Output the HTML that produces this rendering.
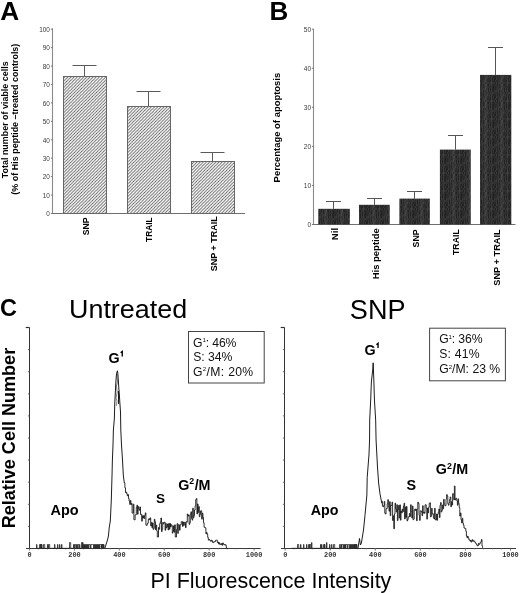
<!DOCTYPE html>
<html><head><meta charset="utf-8"><style>
html,body{margin:0;padding:0;background:#fff;}
svg{display:block;will-change:transform;}
</style></head><body>
<svg width="520" height="593" viewBox="0 0 520 593">
<defs>
<pattern id="hatch" patternUnits="userSpaceOnUse" width="3.15" height="3.15">
<rect width="3.15" height="3.15" fill="#fff"/>
<path d="M-0.8,0.8 L0.8,-0.8 M0,3.15 L3.15,0 M2.35,3.95 L3.95,2.35" stroke="#555" stroke-width="0.8"/>
</pattern>
<pattern id="dark" patternUnits="userSpaceOnUse" width="16" height="18"><rect x="0" y="0" width="1" height="2" fill="#393939"/><rect x="0" y="2" width="1" height="2" fill="#313131"/><rect x="0" y="4" width="1" height="2" fill="#363636"/><rect x="0" y="6" width="1" height="2" fill="#3b3b3b"/><rect x="0" y="8" width="1" height="2" fill="#2d2d2d"/><rect x="0" y="10" width="1" height="2" fill="#3c3c3c"/><rect x="0" y="12" width="1" height="2" fill="#313131"/><rect x="0" y="14" width="1" height="2" fill="#2a2a2a"/><rect x="0" y="16" width="1" height="2" fill="#303030"/><rect x="1" y="0" width="1" height="2" fill="#2d2d2d"/><rect x="1" y="2" width="1" height="2" fill="#282828"/><rect x="1" y="4" width="1" height="2" fill="#252525"/><rect x="1" y="6" width="1" height="2" fill="#2c2c2c"/><rect x="1" y="8" width="1" height="2" fill="#252525"/><rect x="1" y="10" width="1" height="2" fill="#222222"/><rect x="1" y="12" width="1" height="2" fill="#242424"/><rect x="1" y="14" width="1" height="2" fill="#333333"/><rect x="1" y="16" width="1" height="2" fill="#333333"/><rect x="2" y="0" width="1" height="2" fill="#3e3e3e"/><rect x="2" y="2" width="1" height="2" fill="#343434"/><rect x="2" y="4" width="1" height="2" fill="#343434"/><rect x="2" y="6" width="1" height="2" fill="#303030"/><rect x="2" y="8" width="1" height="2" fill="#303030"/><rect x="2" y="10" width="1" height="2" fill="#363636"/><rect x="2" y="12" width="1" height="2" fill="#363636"/><rect x="2" y="14" width="1" height="2" fill="#353535"/><rect x="2" y="16" width="1" height="2" fill="#353535"/><rect x="3" y="0" width="1" height="2" fill="#292929"/><rect x="3" y="2" width="1" height="2" fill="#2a2a2a"/><rect x="3" y="4" width="1" height="2" fill="#262626"/><rect x="3" y="6" width="1" height="2" fill="#313131"/><rect x="3" y="8" width="1" height="2" fill="#353535"/><rect x="3" y="10" width="1" height="2" fill="#343434"/><rect x="3" y="12" width="1" height="2" fill="#262626"/><rect x="3" y="14" width="1" height="2" fill="#252525"/><rect x="3" y="16" width="1" height="2" fill="#363636"/><rect x="4" y="0" width="1" height="2" fill="#363636"/><rect x="4" y="2" width="1" height="2" fill="#3c3c3c"/><rect x="4" y="4" width="1" height="2" fill="#393939"/><rect x="4" y="6" width="1" height="2" fill="#303030"/><rect x="4" y="8" width="1" height="2" fill="#3b3b3b"/><rect x="4" y="10" width="1" height="2" fill="#3d3d3d"/><rect x="4" y="12" width="1" height="2" fill="#353535"/><rect x="4" y="14" width="1" height="2" fill="#343434"/><rect x="4" y="16" width="1" height="2" fill="#383838"/><rect x="5" y="0" width="1" height="2" fill="#323232"/><rect x="5" y="2" width="1" height="2" fill="#3a3a3a"/><rect x="5" y="4" width="1" height="2" fill="#393939"/><rect x="5" y="6" width="1" height="2" fill="#434343"/><rect x="5" y="8" width="1" height="2" fill="#424242"/><rect x="5" y="10" width="1" height="2" fill="#303030"/><rect x="5" y="12" width="1" height="2" fill="#434343"/><rect x="5" y="14" width="1" height="2" fill="#454545"/><rect x="5" y="16" width="1" height="2" fill="#464646"/><rect x="6" y="0" width="1" height="2" fill="#3a3a3a"/><rect x="6" y="2" width="1" height="2" fill="#323232"/><rect x="6" y="4" width="1" height="2" fill="#393939"/><rect x="6" y="6" width="1" height="2" fill="#3b3b3b"/><rect x="6" y="8" width="1" height="2" fill="#393939"/><rect x="6" y="10" width="1" height="2" fill="#3f3f3f"/><rect x="6" y="12" width="1" height="2" fill="#464646"/><rect x="6" y="14" width="1" height="2" fill="#3a3a3a"/><rect x="6" y="16" width="1" height="2" fill="#353535"/><rect x="7" y="0" width="1" height="2" fill="#393939"/><rect x="7" y="2" width="1" height="2" fill="#393939"/><rect x="7" y="4" width="1" height="2" fill="#404040"/><rect x="7" y="6" width="1" height="2" fill="#2f2f2f"/><rect x="7" y="8" width="1" height="2" fill="#2b2b2b"/><rect x="7" y="10" width="1" height="2" fill="#323232"/><rect x="7" y="12" width="1" height="2" fill="#2a2a2a"/><rect x="7" y="14" width="1" height="2" fill="#353535"/><rect x="7" y="16" width="1" height="2" fill="#363636"/><rect x="8" y="0" width="1" height="2" fill="#202020"/><rect x="8" y="2" width="1" height="2" fill="#313131"/><rect x="8" y="4" width="1" height="2" fill="#2d2d2d"/><rect x="8" y="6" width="1" height="2" fill="#2b2b2b"/><rect x="8" y="8" width="1" height="2" fill="#2c2c2c"/><rect x="8" y="10" width="1" height="2" fill="#323232"/><rect x="8" y="12" width="1" height="2" fill="#202020"/><rect x="8" y="14" width="1" height="2" fill="#2e2e2e"/><rect x="8" y="16" width="1" height="2" fill="#212121"/><rect x="9" y="0" width="1" height="2" fill="#3c3c3c"/><rect x="9" y="2" width="1" height="2" fill="#2b2b2b"/><rect x="9" y="4" width="1" height="2" fill="#393939"/><rect x="9" y="6" width="1" height="2" fill="#2c2c2c"/><rect x="9" y="8" width="1" height="2" fill="#292929"/><rect x="9" y="10" width="1" height="2" fill="#2d2d2d"/><rect x="9" y="12" width="1" height="2" fill="#343434"/><rect x="9" y="14" width="1" height="2" fill="#313131"/><rect x="9" y="16" width="1" height="2" fill="#363636"/><rect x="10" y="0" width="1" height="2" fill="#2b2b2b"/><rect x="10" y="2" width="1" height="2" fill="#303030"/><rect x="10" y="4" width="1" height="2" fill="#282828"/><rect x="10" y="6" width="1" height="2" fill="#2e2e2e"/><rect x="10" y="8" width="1" height="2" fill="#232323"/><rect x="10" y="10" width="1" height="2" fill="#323232"/><rect x="10" y="12" width="1" height="2" fill="#2b2b2b"/><rect x="10" y="14" width="1" height="2" fill="#292929"/><rect x="10" y="16" width="1" height="2" fill="#212121"/><rect x="11" y="0" width="1" height="2" fill="#3d3d3d"/><rect x="11" y="2" width="1" height="2" fill="#323232"/><rect x="11" y="4" width="1" height="2" fill="#363636"/><rect x="11" y="6" width="1" height="2" fill="#3a3a3a"/><rect x="11" y="8" width="1" height="2" fill="#404040"/><rect x="11" y="10" width="1" height="2" fill="#434343"/><rect x="11" y="12" width="1" height="2" fill="#3b3b3b"/><rect x="11" y="14" width="1" height="2" fill="#343434"/><rect x="11" y="16" width="1" height="2" fill="#3a3a3a"/><rect x="12" y="0" width="1" height="2" fill="#282828"/><rect x="12" y="2" width="1" height="2" fill="#363636"/><rect x="12" y="4" width="1" height="2" fill="#313131"/><rect x="12" y="6" width="1" height="2" fill="#222222"/><rect x="12" y="8" width="1" height="2" fill="#292929"/><rect x="12" y="10" width="1" height="2" fill="#353535"/><rect x="12" y="12" width="1" height="2" fill="#2a2a2a"/><rect x="12" y="14" width="1" height="2" fill="#292929"/><rect x="12" y="16" width="1" height="2" fill="#252525"/><rect x="13" y="0" width="1" height="2" fill="#222222"/><rect x="13" y="2" width="1" height="2" fill="#343434"/><rect x="13" y="4" width="1" height="2" fill="#242424"/><rect x="13" y="6" width="1" height="2" fill="#363636"/><rect x="13" y="8" width="1" height="2" fill="#292929"/><rect x="13" y="10" width="1" height="2" fill="#2f2f2f"/><rect x="13" y="12" width="1" height="2" fill="#252525"/><rect x="13" y="14" width="1" height="2" fill="#212121"/><rect x="13" y="16" width="1" height="2" fill="#222222"/><rect x="14" y="0" width="1" height="2" fill="#333333"/><rect x="14" y="2" width="1" height="2" fill="#313131"/><rect x="14" y="4" width="1" height="2" fill="#2c2c2c"/><rect x="14" y="6" width="1" height="2" fill="#212121"/><rect x="14" y="8" width="1" height="2" fill="#272727"/><rect x="14" y="10" width="1" height="2" fill="#333333"/><rect x="14" y="12" width="1" height="2" fill="#2b2b2b"/><rect x="14" y="14" width="1" height="2" fill="#282828"/><rect x="14" y="16" width="1" height="2" fill="#2e2e2e"/><rect x="15" y="0" width="1" height="2" fill="#343434"/><rect x="15" y="2" width="1" height="2" fill="#2d2d2d"/><rect x="15" y="4" width="1" height="2" fill="#242424"/><rect x="15" y="6" width="1" height="2" fill="#212121"/><rect x="15" y="8" width="1" height="2" fill="#343434"/><rect x="15" y="10" width="1" height="2" fill="#212121"/><rect x="15" y="12" width="1" height="2" fill="#2f2f2f"/><rect x="15" y="14" width="1" height="2" fill="#2a2a2a"/><rect x="15" y="16" width="1" height="2" fill="#262626"/></pattern>
</defs>
<rect width="520" height="593" fill="#fff"/>
<line x1="52.5" y1="28.2" x2="52.5" y2="214.0" stroke="#8a8a8a" stroke-width="1.1"/>
<line x1="52.0" y1="213.5" x2="245" y2="213.5" stroke="#707070" stroke-width="1.1"/>
<line x1="50.9" y1="213.5" x2="52.5" y2="213.5" stroke="#777" stroke-width="1"/>
<text x="49.9" y="216.3" font-size="6.4" font-family='"Liberation Sans", sans-serif' text-anchor="end" fill="#3a3a3a">0</text>
<line x1="50.9" y1="195.07" x2="52.5" y2="195.07" stroke="#777" stroke-width="1"/>
<text x="49.9" y="197.87" font-size="6.4" font-family='"Liberation Sans", sans-serif' text-anchor="end" fill="#3a3a3a">10</text>
<line x1="50.9" y1="176.64" x2="52.5" y2="176.64" stroke="#777" stroke-width="1"/>
<text x="49.9" y="179.44" font-size="6.4" font-family='"Liberation Sans", sans-serif' text-anchor="end" fill="#3a3a3a">20</text>
<line x1="50.9" y1="158.21" x2="52.5" y2="158.21" stroke="#777" stroke-width="1"/>
<text x="49.9" y="161.01" font-size="6.4" font-family='"Liberation Sans", sans-serif' text-anchor="end" fill="#3a3a3a">30</text>
<line x1="50.9" y1="139.78" x2="52.5" y2="139.78" stroke="#777" stroke-width="1"/>
<text x="49.9" y="142.58" font-size="6.4" font-family='"Liberation Sans", sans-serif' text-anchor="end" fill="#3a3a3a">40</text>
<line x1="50.9" y1="121.35" x2="52.5" y2="121.35" stroke="#777" stroke-width="1"/>
<text x="49.9" y="124.15" font-size="6.4" font-family='"Liberation Sans", sans-serif' text-anchor="end" fill="#3a3a3a">50</text>
<line x1="50.9" y1="102.92" x2="52.5" y2="102.92" stroke="#777" stroke-width="1"/>
<text x="49.9" y="105.72" font-size="6.4" font-family='"Liberation Sans", sans-serif' text-anchor="end" fill="#3a3a3a">60</text>
<line x1="50.9" y1="84.49000000000001" x2="52.5" y2="84.49000000000001" stroke="#777" stroke-width="1"/>
<text x="49.9" y="87.29" font-size="6.4" font-family='"Liberation Sans", sans-serif' text-anchor="end" fill="#3a3a3a">70</text>
<line x1="50.9" y1="66.06" x2="52.5" y2="66.06" stroke="#777" stroke-width="1"/>
<text x="49.9" y="68.86" font-size="6.4" font-family='"Liberation Sans", sans-serif' text-anchor="end" fill="#3a3a3a">80</text>
<line x1="50.9" y1="47.629999999999995" x2="52.5" y2="47.629999999999995" stroke="#777" stroke-width="1"/>
<text x="49.9" y="50.43" font-size="6.4" font-family='"Liberation Sans", sans-serif' text-anchor="end" fill="#3a3a3a">90</text>
<line x1="50.9" y1="29.19999999999999" x2="52.5" y2="29.19999999999999" stroke="#777" stroke-width="1"/>
<text x="49.9" y="32.0" font-size="6.4" font-family='"Liberation Sans", sans-serif' text-anchor="end" fill="#3a3a3a">100</text>
<line x1="84.5" y1="65.5" x2="84.5" y2="76" stroke="#5a5a5a" stroke-width="1"/>
<line x1="72.5" y1="65.5" x2="96.5" y2="65.5" stroke="#5a5a5a" stroke-width="1"/>
<rect x="63.5" y="76.5" width="43" height="137.0" fill="url(#hatch)" stroke="#666" stroke-width="1"/>
<line x1="148.5" y1="91.5" x2="148.5" y2="106" stroke="#5a5a5a" stroke-width="1"/>
<line x1="136.5" y1="91.5" x2="160.5" y2="91.5" stroke="#5a5a5a" stroke-width="1"/>
<rect x="127.5" y="106.5" width="43" height="107.0" fill="url(#hatch)" stroke="#666" stroke-width="1"/>
<line x1="212.5" y1="152.5" x2="212.5" y2="161" stroke="#5a5a5a" stroke-width="1"/>
<line x1="200.5" y1="152.5" x2="224.5" y2="152.5" stroke="#5a5a5a" stroke-width="1"/>
<rect x="191.5" y="161.5" width="43" height="52.0" fill="url(#hatch)" stroke="#666" stroke-width="1"/>
<line x1="313.5" y1="28.8" x2="313.5" y2="225.0" stroke="#8a8a8a" stroke-width="1.1"/>
<line x1="313.0" y1="224.5" x2="515.5" y2="224.5" stroke="#707070" stroke-width="1.1"/>
<line x1="311.9" y1="224.5" x2="313.5" y2="224.5" stroke="#777" stroke-width="1"/>
<text x="311.1" y="227.1" font-size="6.5" font-family='"Liberation Sans", sans-serif' text-anchor="end" fill="#3a3a3a">0</text>
<line x1="311.9" y1="185.44" x2="313.5" y2="185.44" stroke="#777" stroke-width="1"/>
<text x="311.1" y="188.04" font-size="6.5" font-family='"Liberation Sans", sans-serif' text-anchor="end" fill="#3a3a3a">10</text>
<line x1="311.9" y1="146.38" x2="313.5" y2="146.38" stroke="#777" stroke-width="1"/>
<text x="311.1" y="148.98" font-size="6.5" font-family='"Liberation Sans", sans-serif' text-anchor="end" fill="#3a3a3a">20</text>
<line x1="311.9" y1="107.32" x2="313.5" y2="107.32" stroke="#777" stroke-width="1"/>
<text x="311.1" y="109.92" font-size="6.5" font-family='"Liberation Sans", sans-serif' text-anchor="end" fill="#3a3a3a">30</text>
<line x1="311.9" y1="68.25999999999999" x2="313.5" y2="68.25999999999999" stroke="#777" stroke-width="1"/>
<text x="311.1" y="70.86" font-size="6.5" font-family='"Liberation Sans", sans-serif' text-anchor="end" fill="#3a3a3a">40</text>
<line x1="311.9" y1="29.19999999999999" x2="313.5" y2="29.19999999999999" stroke="#777" stroke-width="1"/>
<text x="311.1" y="31.8" font-size="6.5" font-family='"Liberation Sans", sans-serif' text-anchor="end" fill="#3a3a3a">50</text>
<line x1="333.5" y1="201.5" x2="333.5" y2="208.8" stroke="#555" stroke-width="1"/>
<line x1="326.0" y1="201.5" x2="341.0" y2="201.5" stroke="#555" stroke-width="1"/>
<rect x="318.3" y="208.8" width="31.5" height="15.7" fill="url(#dark)"/>
<line x1="374.5" y1="198.5" x2="374.5" y2="204.8" stroke="#555" stroke-width="1"/>
<line x1="367.0" y1="198.5" x2="382.0" y2="198.5" stroke="#555" stroke-width="1"/>
<rect x="359.0" y="204.8" width="30.8" height="19.7" fill="url(#dark)"/>
<line x1="414.5" y1="191.5" x2="414.5" y2="198.6" stroke="#555" stroke-width="1"/>
<line x1="407.0" y1="191.5" x2="422.0" y2="191.5" stroke="#555" stroke-width="1"/>
<rect x="399.4" y="198.6" width="30.4" height="25.9" fill="url(#dark)"/>
<line x1="455.5" y1="135.5" x2="455.5" y2="149.6" stroke="#555" stroke-width="1"/>
<line x1="448.0" y1="135.5" x2="463.0" y2="135.5" stroke="#555" stroke-width="1"/>
<rect x="439.9" y="149.6" width="30.9" height="74.9" fill="url(#dark)"/>
<line x1="495.5" y1="47.5" x2="495.5" y2="74.9" stroke="#555" stroke-width="1"/>
<line x1="488.0" y1="47.5" x2="503.0" y2="47.5" stroke="#555" stroke-width="1"/>
<rect x="480.0" y="74.9" width="31.3" height="149.6" fill="url(#dark)"/>
<line x1="29.5" y1="327.4" x2="29.5" y2="548.5" stroke="#333" stroke-width="1.0"/>
<line x1="25.7" y1="327.5" x2="29.5" y2="327.5" stroke="#333" stroke-width="1.2"/>
<line x1="27.9" y1="526.4" x2="29.5" y2="526.4" stroke="#666" stroke-width="1"/>
<line x1="27.9" y1="504.3" x2="29.5" y2="504.3" stroke="#666" stroke-width="1"/>
<line x1="27.9" y1="482.2" x2="29.5" y2="482.2" stroke="#666" stroke-width="1"/>
<line x1="27.9" y1="460.1" x2="29.5" y2="460.1" stroke="#666" stroke-width="1"/>
<line x1="27.9" y1="438.0" x2="29.5" y2="438.0" stroke="#666" stroke-width="1"/>
<line x1="27.9" y1="415.9" x2="29.5" y2="415.9" stroke="#666" stroke-width="1"/>
<line x1="27.9" y1="393.79999999999995" x2="29.5" y2="393.79999999999995" stroke="#666" stroke-width="1"/>
<line x1="27.9" y1="371.7" x2="29.5" y2="371.7" stroke="#666" stroke-width="1"/>
<line x1="27.9" y1="349.6" x2="29.5" y2="349.6" stroke="#666" stroke-width="1"/>
<line x1="26.0" y1="548.5" x2="260.6" y2="548.5" stroke="#3a3a3a" stroke-width="1.1"/>
<text x="29.6" y="557.4" font-size="6.9" font-family='"Liberation Mono", monospace' font-weight="bold" text-anchor="middle" fill="#333">0</text>
<line x1="29.6" y1="548.5" x2="29.6" y2="550.6" stroke="#666" stroke-width="0.9"/>
<text x="74.5" y="557.4" font-size="6.9" font-family='"Liberation Mono", monospace' font-weight="bold" text-anchor="middle" fill="#333">200</text>
<line x1="74.5" y1="548.5" x2="74.5" y2="550.6" stroke="#666" stroke-width="0.9"/>
<text x="119.4" y="557.4" font-size="6.9" font-family='"Liberation Mono", monospace' font-weight="bold" text-anchor="middle" fill="#333">400</text>
<line x1="119.4" y1="548.5" x2="119.4" y2="550.6" stroke="#666" stroke-width="0.9"/>
<text x="164.3" y="557.4" font-size="6.9" font-family='"Liberation Mono", monospace' font-weight="bold" text-anchor="middle" fill="#333">600</text>
<line x1="164.29999999999998" y1="548.5" x2="164.29999999999998" y2="550.6" stroke="#666" stroke-width="0.9"/>
<text x="209.2" y="557.4" font-size="6.9" font-family='"Liberation Mono", monospace' font-weight="bold" text-anchor="middle" fill="#333">800</text>
<line x1="209.2" y1="548.5" x2="209.2" y2="550.6" stroke="#666" stroke-width="0.9"/>
<text x="254.1" y="557.4" font-size="6.9" font-family='"Liberation Mono", monospace' font-weight="bold" text-anchor="middle" fill="#333">1000</text>
<line x1="254.1" y1="548.5" x2="254.1" y2="550.6" stroke="#666" stroke-width="0.9"/>
<line x1="38.58" y1="548.5" x2="38.58" y2="549.8" stroke="#999" stroke-width="0.6"/>
<line x1="47.56" y1="548.5" x2="47.56" y2="549.8" stroke="#999" stroke-width="0.6"/>
<line x1="56.54" y1="548.5" x2="56.54" y2="549.8" stroke="#999" stroke-width="0.6"/>
<line x1="65.52000000000001" y1="548.5" x2="65.52000000000001" y2="549.8" stroke="#999" stroke-width="0.6"/>
<line x1="74.5" y1="548.5" x2="74.5" y2="549.8" stroke="#999" stroke-width="0.6"/>
<line x1="83.47999999999999" y1="548.5" x2="83.47999999999999" y2="549.8" stroke="#999" stroke-width="0.6"/>
<line x1="92.46000000000001" y1="548.5" x2="92.46000000000001" y2="549.8" stroke="#999" stroke-width="0.6"/>
<line x1="101.44" y1="548.5" x2="101.44" y2="549.8" stroke="#999" stroke-width="0.6"/>
<line x1="110.41999999999999" y1="548.5" x2="110.41999999999999" y2="549.8" stroke="#999" stroke-width="0.6"/>
<line x1="119.4" y1="548.5" x2="119.4" y2="549.8" stroke="#999" stroke-width="0.6"/>
<line x1="128.38" y1="548.5" x2="128.38" y2="549.8" stroke="#999" stroke-width="0.6"/>
<line x1="137.35999999999999" y1="548.5" x2="137.35999999999999" y2="549.8" stroke="#999" stroke-width="0.6"/>
<line x1="146.33999999999997" y1="548.5" x2="146.33999999999997" y2="549.8" stroke="#999" stroke-width="0.6"/>
<line x1="155.32" y1="548.5" x2="155.32" y2="549.8" stroke="#999" stroke-width="0.6"/>
<line x1="164.29999999999998" y1="548.5" x2="164.29999999999998" y2="549.8" stroke="#999" stroke-width="0.6"/>
<line x1="173.28" y1="548.5" x2="173.28" y2="549.8" stroke="#999" stroke-width="0.6"/>
<line x1="182.26" y1="548.5" x2="182.26" y2="549.8" stroke="#999" stroke-width="0.6"/>
<line x1="191.23999999999998" y1="548.5" x2="191.23999999999998" y2="549.8" stroke="#999" stroke-width="0.6"/>
<line x1="200.22" y1="548.5" x2="200.22" y2="549.8" stroke="#999" stroke-width="0.6"/>
<line x1="209.2" y1="548.5" x2="209.2" y2="549.8" stroke="#999" stroke-width="0.6"/>
<line x1="218.17999999999998" y1="548.5" x2="218.17999999999998" y2="549.8" stroke="#999" stroke-width="0.6"/>
<line x1="227.16" y1="548.5" x2="227.16" y2="549.8" stroke="#999" stroke-width="0.6"/>
<line x1="236.14000000000001" y1="548.5" x2="236.14000000000001" y2="549.8" stroke="#999" stroke-width="0.6"/>
<line x1="245.11999999999998" y1="548.5" x2="245.11999999999998" y2="549.8" stroke="#999" stroke-width="0.6"/>
<line x1="284.5" y1="327.4" x2="284.5" y2="548.5" stroke="#333" stroke-width="1.0"/>
<line x1="280.7" y1="327.5" x2="284.5" y2="327.5" stroke="#333" stroke-width="1.2"/>
<line x1="282.9" y1="526.4" x2="284.5" y2="526.4" stroke="#666" stroke-width="1"/>
<line x1="282.9" y1="504.3" x2="284.5" y2="504.3" stroke="#666" stroke-width="1"/>
<line x1="282.9" y1="482.2" x2="284.5" y2="482.2" stroke="#666" stroke-width="1"/>
<line x1="282.9" y1="460.1" x2="284.5" y2="460.1" stroke="#666" stroke-width="1"/>
<line x1="282.9" y1="438.0" x2="284.5" y2="438.0" stroke="#666" stroke-width="1"/>
<line x1="282.9" y1="415.9" x2="284.5" y2="415.9" stroke="#666" stroke-width="1"/>
<line x1="282.9" y1="393.79999999999995" x2="284.5" y2="393.79999999999995" stroke="#666" stroke-width="1"/>
<line x1="282.9" y1="371.7" x2="284.5" y2="371.7" stroke="#666" stroke-width="1"/>
<line x1="282.9" y1="349.6" x2="284.5" y2="349.6" stroke="#666" stroke-width="1"/>
<line x1="281.0" y1="548.5" x2="516" y2="548.5" stroke="#3a3a3a" stroke-width="1.1"/>
<text x="285.2" y="557.4" font-size="6.9" font-family='"Liberation Mono", monospace' font-weight="bold" text-anchor="middle" fill="#333">0</text>
<line x1="285.2" y1="548.5" x2="285.2" y2="550.6" stroke="#666" stroke-width="0.9"/>
<text x="330.26" y="557.4" font-size="6.9" font-family='"Liberation Mono", monospace' font-weight="bold" text-anchor="middle" fill="#333">200</text>
<line x1="330.26" y1="548.5" x2="330.26" y2="550.6" stroke="#666" stroke-width="0.9"/>
<text x="375.32" y="557.4" font-size="6.9" font-family='"Liberation Mono", monospace' font-weight="bold" text-anchor="middle" fill="#333">400</text>
<line x1="375.32" y1="548.5" x2="375.32" y2="550.6" stroke="#666" stroke-width="0.9"/>
<text x="420.38" y="557.4" font-size="6.9" font-family='"Liberation Mono", monospace' font-weight="bold" text-anchor="middle" fill="#333">600</text>
<line x1="420.38" y1="548.5" x2="420.38" y2="550.6" stroke="#666" stroke-width="0.9"/>
<text x="465.44" y="557.4" font-size="6.9" font-family='"Liberation Mono", monospace' font-weight="bold" text-anchor="middle" fill="#333">800</text>
<line x1="465.44" y1="548.5" x2="465.44" y2="550.6" stroke="#666" stroke-width="0.9"/>
<text x="510.5" y="557.4" font-size="6.9" font-family='"Liberation Mono", monospace' font-weight="bold" text-anchor="middle" fill="#333">1000</text>
<line x1="510.5" y1="548.5" x2="510.5" y2="550.6" stroke="#666" stroke-width="0.9"/>
<line x1="294.212" y1="548.5" x2="294.212" y2="549.8" stroke="#999" stroke-width="0.6"/>
<line x1="303.224" y1="548.5" x2="303.224" y2="549.8" stroke="#999" stroke-width="0.6"/>
<line x1="312.236" y1="548.5" x2="312.236" y2="549.8" stroke="#999" stroke-width="0.6"/>
<line x1="321.248" y1="548.5" x2="321.248" y2="549.8" stroke="#999" stroke-width="0.6"/>
<line x1="330.26" y1="548.5" x2="330.26" y2="549.8" stroke="#999" stroke-width="0.6"/>
<line x1="339.272" y1="548.5" x2="339.272" y2="549.8" stroke="#999" stroke-width="0.6"/>
<line x1="348.284" y1="548.5" x2="348.284" y2="549.8" stroke="#999" stroke-width="0.6"/>
<line x1="357.296" y1="548.5" x2="357.296" y2="549.8" stroke="#999" stroke-width="0.6"/>
<line x1="366.308" y1="548.5" x2="366.308" y2="549.8" stroke="#999" stroke-width="0.6"/>
<line x1="375.32" y1="548.5" x2="375.32" y2="549.8" stroke="#999" stroke-width="0.6"/>
<line x1="384.332" y1="548.5" x2="384.332" y2="549.8" stroke="#999" stroke-width="0.6"/>
<line x1="393.344" y1="548.5" x2="393.344" y2="549.8" stroke="#999" stroke-width="0.6"/>
<line x1="402.356" y1="548.5" x2="402.356" y2="549.8" stroke="#999" stroke-width="0.6"/>
<line x1="411.368" y1="548.5" x2="411.368" y2="549.8" stroke="#999" stroke-width="0.6"/>
<line x1="420.38" y1="548.5" x2="420.38" y2="549.8" stroke="#999" stroke-width="0.6"/>
<line x1="429.392" y1="548.5" x2="429.392" y2="549.8" stroke="#999" stroke-width="0.6"/>
<line x1="438.404" y1="548.5" x2="438.404" y2="549.8" stroke="#999" stroke-width="0.6"/>
<line x1="447.416" y1="548.5" x2="447.416" y2="549.8" stroke="#999" stroke-width="0.6"/>
<line x1="456.428" y1="548.5" x2="456.428" y2="549.8" stroke="#999" stroke-width="0.6"/>
<line x1="465.44" y1="548.5" x2="465.44" y2="549.8" stroke="#999" stroke-width="0.6"/>
<line x1="474.452" y1="548.5" x2="474.452" y2="549.8" stroke="#999" stroke-width="0.6"/>
<line x1="483.464" y1="548.5" x2="483.464" y2="549.8" stroke="#999" stroke-width="0.6"/>
<line x1="492.476" y1="548.5" x2="492.476" y2="549.8" stroke="#999" stroke-width="0.6"/>
<line x1="501.488" y1="548.5" x2="501.488" y2="549.8" stroke="#999" stroke-width="0.6"/>
<rect x="188.5" y="331.5" width="75.7" height="51.5" fill="none" stroke="#444" stroke-width="1"/>
<rect x="429.6" y="328.2" width="75.8" height="52.6" fill="none" stroke="#444" stroke-width="1"/>
<text x="108.6" y="363.4" font-size="14.3" font-family='"Liberation Sans", sans-serif' font-weight="bold" text-anchor="start" fill="#000">G</text>
<text x="364.5" y="355.3" font-size="14.3" font-family='"Liberation Sans", sans-serif' font-weight="bold" text-anchor="start" fill="#000">G</text>
<path d="M122.25,356.50 L122.25,351.40 L120.65,352.80" fill="none" stroke="#000" stroke-width="1.35" stroke-linejoin="miter" stroke-miterlimit="8"/>
<path d="M378.05,348.10 L378.05,343.30 L376.45,344.70" fill="none" stroke="#000" stroke-width="1.35" stroke-linejoin="miter" stroke-miterlimit="8"/>
<text x="178.2" y="489.7" font-size="14.3" font-family='"Liberation Sans", sans-serif' font-weight="bold" text-anchor="start" fill="#000">G<tspan font-size="8.8" dy="-5.6">2</tspan><tspan dx="0.4" dy="5.6">/M</tspan></text>
<text x="435.8" y="474.2" font-size="14.3" font-family='"Liberation Sans", sans-serif' font-weight="bold" text-anchor="start" fill="#000">G<tspan font-size="8.8" dy="-5.6">2</tspan><tspan dx="0.4" dy="5.6">/M</tspan></text>
<polyline points="36.50,548.30 36.50,548.30 36.50,544.50 36.95,544.50 36.95,548.30 39.50,548.30 39.50,544.50 40.70,544.50 40.70,548.30 40.50,548.30 40.50,544.50 41.70,544.50 41.70,548.30 41.50,548.30 41.50,544.50 41.95,544.50 41.95,548.30 43.50,548.30 43.50,544.50 44.70,544.50 44.70,548.30 47.50,548.30 47.50,544.50 47.95,544.50 47.95,548.30 48.50,548.30 48.50,544.50 49.70,544.50 49.70,548.30 54.50,548.30 54.50,544.50 54.95,544.50 54.95,548.30 57.50,548.30 57.50,544.50 57.95,544.50 57.95,548.30 59.50,548.30 59.50,544.50 59.95,544.50 59.95,548.30 61.50,548.30 61.50,544.50 61.95,544.50 61.95,548.30 69.50,548.30 69.50,542.60 70.70,542.60 70.70,548.30 73.50,548.30 73.50,544.50 73.95,544.50 73.95,548.30 74.50,548.30 74.50,544.50 75.70,544.50 75.70,548.30 76.50,548.30 76.50,544.50 76.95,544.50 76.95,548.30 77.50,548.30 77.50,544.50 78.70,544.50 78.70,548.30 79.50,548.30 79.50,544.50 79.95,544.50 79.95,548.30 81.50,548.30 81.50,542.60 82.70,542.60 82.70,548.30 82.50,548.30 82.50,542.60 82.95,542.60 82.95,548.30 83.50,548.30 83.50,544.50 83.95,544.50 83.95,548.30 84.50,544.50 84.50,548.30 85.00,548.30 85.00,544.50 85.50,544.50 85.50,544.50 85.50,548.30 86.00,548.30 86.00,544.50 86.50,544.50 86.50,544.50 86.50,548.30 87.00,548.30 87.00,544.50 87.50,544.50 87.50,544.50 87.50,548.30 88.00,548.30 88.00,544.50 88.50,544.50 88.50,544.50 88.50,548.30 89.00,548.30 89.00,544.50 89.50,544.50 89.50,544.50 90.50,544.50 90.50,544.50 90.50,548.30 91.00,548.30 91.00,544.50 91.50,544.50 91.50,544.50 92.50,544.50 92.50,544.50 93.50,544.50 93.50,544.50 93.50,548.30 94.00,548.30 94.00,544.50 94.50,544.50 94.50,544.50 94.50,548.30 95.00,548.30 95.00,544.50 95.50,544.50 95.50,544.50 95.50,548.30 96.00,548.30 96.00,544.50 96.50,544.50 96.50,544.50 96.50,548.30 97.00,548.30 97.00,544.50 97.50,544.50 97.50,544.50 97.50,548.30 98.00,548.30 98.00,544.50 98.50,544.50 98.50,544.50 98.50,548.30 99.00,548.30 99.00,544.50 99.50,544.50 99.50,544.50 99.50,548.30 100.00,548.30 100.00,544.50 100.50,544.50 100.50,544.50 101.50,544.50 101.50,548.30 101.50,544.50 102.70,544.50 102.70,548.30 102.50,548.30 102.50,544.50 103.70,544.50 103.70,548.30 103.50,548.30 103.50,544.50 103.95,544.50 103.95,548.30 104.80,548.30" fill="none" stroke="#222" stroke-width="0.8" stroke-linejoin="bevel"/>
<polyline points="116.80,374.00 117.60,382.00 116.40,386.00 117.20,392.00 116.00,398.00 117.00,401.00 116.20,406.00" fill="none" stroke="#666" stroke-width="0.8" stroke-linejoin="bevel"/>
<line x1="118.4" y1="391" x2="118.6" y2="404" stroke="#111" stroke-width="1"/>
<polyline points="104.80,548.30 107.50,540.00 108.40,536.00 109.00,530.00 109.30,527.00 110.30,521.00 110.60,515.00 111.30,500.00 112.00,476.00 112.40,460.00 113.00,445.00 113.40,430.00 114.40,418.00 114.70,405.00 115.30,393.00 115.80,383.00 116.30,376.00 117.00,372.00 117.40,370.80 117.80,373.00 118.30,380.00 118.80,388.00 119.40,395.00 119.80,402.00 120.50,412.00 120.80,430.00 121.50,445.00 122.50,460.00 123.30,475.00 124.30,483.00" fill="none" stroke="#111" stroke-width="0.95" stroke-linejoin="bevel"/>
<polyline points="124.30,482.86 124.90,482.86 124.90,487.89 125.50,487.89 125.50,492.59 126.10,492.59 126.10,492.08 126.70,492.08 126.70,493.79 127.30,493.79 127.30,495.80 127.90,495.80 127.90,494.61 128.50,494.61 128.50,498.46 129.10,498.46 129.10,501.00 129.70,501.00 129.70,504.35 130.30,504.35 130.30,500.43 130.90,500.43 130.90,504.65 131.50,504.65 131.50,503.43 132.10,503.43 132.10,513.09 132.70,513.09 132.70,513.10 133.30,513.10 133.30,504.16 133.90,504.16 133.90,519.68 134.50,519.68 134.50,519.90 135.10,519.90 135.10,515.02 135.70,515.02 135.70,514.76 136.30,514.76 136.30,507.33 136.90,507.33 136.90,505.21 137.50,505.21 137.50,514.23 138.10,514.23 138.10,506.56 138.70,506.56 138.70,509.08 139.30,509.08 139.30,510.26 139.90,510.26 139.90,506.96 140.50,506.96 140.50,514.49 141.10,514.49 141.10,514.21 141.70,514.21 141.70,521.16 142.30,521.16 142.30,515.79 142.90,515.79 142.90,517.96 143.50,517.96 143.50,515.70 144.10,515.70 144.10,518.58 144.70,518.58 144.70,515.21 145.30,515.21 145.30,512.86 145.90,512.86 145.90,525.06 146.50,525.06 146.50,525.44 147.10,525.44 147.10,523.85 147.70,523.85 147.70,522.91 148.30,522.91 148.30,519.19 148.90,519.19 148.90,518.70 149.50,518.70 149.50,519.80 150.10,519.80 150.10,517.85 150.70,517.85 150.70,525.95 151.30,525.95 151.30,522.38 151.90,522.38 151.90,527.74 152.50,527.74 152.50,522.92 153.10,522.92 153.10,529.41 153.70,529.41 153.70,528.39 154.30,528.39 154.30,519.27 154.90,519.27 154.90,521.77 155.50,521.77 155.50,529.68 156.10,529.68 156.10,525.04 156.70,525.04 156.70,530.85 157.30,530.85 157.30,537.00 157.90,537.00 157.90,537.00 158.50,537.00 158.50,527.50 159.10,527.50 159.10,529.22 159.70,529.22 159.70,523.71 160.30,523.71 160.30,521.79 160.90,521.79 160.90,518.00 161.50,518.00 161.50,531.60 162.10,531.60 162.10,529.42 162.70,529.42 162.70,522.47 163.30,522.47 163.30,523.97 163.90,523.97 163.90,522.45 164.50,522.45 164.50,522.09 165.10,522.09 165.10,530.28 165.70,530.28 165.70,523.55 166.30,523.55 166.30,527.84 166.90,527.84 166.90,526.69 167.50,526.69 167.50,523.95 168.10,523.95 168.10,529.99 168.70,529.99 168.70,523.47 169.30,523.47 169.30,529.20 169.90,529.20 169.90,523.48 170.50,523.48 170.50,526.91 171.10,526.91 171.10,524.71 171.70,524.71 171.70,525.42 172.30,525.42 172.30,533.18 172.90,533.18 172.90,531.34 173.50,531.34 173.50,525.85 174.10,525.85 174.10,532.23 174.70,532.23 174.70,524.82 175.30,524.82 175.30,537.00 175.90,537.00 175.90,537.00 176.50,537.00 176.50,529.56 177.10,529.56 177.10,523.60 177.70,523.60 177.70,533.38 178.30,533.38 178.30,524.70 178.90,524.70 178.90,524.89 179.50,524.89 179.50,530.25 180.10,530.25 180.10,525.07 180.70,525.07 180.70,524.41 181.30,524.41 181.30,521.66 181.90,521.66 181.90,521.54 182.50,521.54 182.50,526.41 183.10,526.41 183.10,522.07 183.70,522.07 183.70,525.41 184.30,525.41 184.30,522.29 184.90,522.29 184.90,522.59 185.50,522.59 185.50,527.69 186.10,527.69 186.10,521.71 186.70,521.71 186.70,522.20 187.30,522.20 187.30,514.00 187.90,514.00 187.90,516.06 188.50,516.06 188.50,514.97 189.10,514.97 189.10,524.40 189.70,524.40 189.70,522.69 190.30,522.69 190.30,513.88 190.90,513.88 190.90,511.80 191.50,511.80 191.50,518.42 192.10,518.42 192.10,520.15 192.70,520.15 192.70,508.19 193.30,508.19 193.30,517.90 193.90,517.90 193.90,515.55 194.50,515.55 194.50,510.04 195.10,510.04 195.10,505.92 195.70,505.92 195.70,499.70 196.30,499.70 196.30,498.56 196.90,498.56 196.90,513.92 197.50,513.92 197.50,503.95 198.10,503.95 198.10,512.40 198.70,512.40 198.70,506.57 199.30,506.57 199.30,516.73 199.90,516.73 199.90,514.34 200.50,514.34 200.50,510.90 201.10,510.90 201.10,510.72 201.70,510.72 201.70,519.18 202.30,519.18 202.30,513.13 202.90,513.13 202.90,517.38 203.50,517.38 203.50,522.78 204.10,522.78 204.10,527.17 204.70,527.17 204.70,527.61 205.30,527.61 205.30,527.82 205.90,527.82 205.90,533.88 206.50,533.88 206.50,532.45 207.10,532.45 207.10,534.12 207.70,534.12 207.70,537.33 208.30,537.33 208.30,540.11 208.90,540.11 208.90,539.54 209.50,539.54 209.50,540.03 210.10,540.03 210.10,540.69 210.70,540.69 210.70,541.33 211.30,541.33 211.30,540.06 211.90,540.06 211.90,540.78 212.50,540.78 212.50,542.35 213.10,542.35 213.10,542.63 213.70,542.63 213.70,541.72 214.30,541.72 214.30,541.85 214.90,541.85 214.90,541.57 215.50,541.57 215.50,540.36 216.10,540.36 216.10,540.11 216.70,540.11 216.70,540.11 217.30,540.11 217.30,542.58 217.90,542.58 217.90,542.04 218.50,542.04 218.50,543.99 219.10,543.99 219.10,542.73 219.70,542.73 219.70,544.36 220.30,544.36 220.30,543.95 220.90,543.95 220.90,544.60 221.50,544.60 221.50,543.53 222.10,543.53 222.10,545.27 222.70,545.27 222.70,542.93 223.30,542.93 223.30,544.12 223.90,544.12 223.90,544.59 224.50,544.59 224.50,544.98 225.10,544.98 225.10,544.58 225.70,544.58 225.70,545.35 226.30,545.35 226.30,548.04 226.90,548.04 226.90,548.30 227.50,548.30 227.50,548.21" fill="none" stroke="#111" stroke-width="0.85" stroke-linejoin="bevel"/>
<polyline points="291.50,548.30 297.50,548.30 297.50,544.50 298.70,544.50 298.70,548.30 300.50,548.30 300.50,544.50 300.95,544.50 300.95,548.30 303.50,548.30 303.50,544.50 303.95,544.50 303.95,548.30 306.50,548.30 306.50,544.50 306.95,544.50 306.95,548.30 308.50,548.30 308.50,544.50 309.70,544.50 309.70,548.30 309.50,548.30 309.50,544.50 310.70,544.50 310.70,548.30 311.50,548.30 311.50,542.60 311.95,542.60 311.95,548.30 320.50,548.30 320.50,544.50 320.95,544.50 320.95,548.30 321.50,548.30 321.50,544.50 321.95,544.50 321.95,548.30 323.50,548.30 323.50,544.50 324.70,544.50 324.70,548.30 324.50,548.30 324.50,544.50 324.95,544.50 324.95,548.30 326.50,548.30 326.50,542.60 326.95,542.60 326.95,548.30 329.50,548.30 329.50,544.50 329.95,544.50 329.95,548.30 331.50,548.30 331.50,544.50 331.95,544.50 331.95,548.30 333.50,548.30 333.50,544.50 334.70,544.50 334.70,548.30 339.50,548.30 339.50,544.50 340.70,544.50 340.70,548.30 341.50,544.50 341.50,548.30 342.00,548.30 342.00,544.50 342.50,544.50 342.50,544.50 343.50,544.50 343.50,544.50 343.50,548.30 344.00,548.30 344.00,544.50 344.50,544.50 344.50,544.50 344.50,548.30 345.00,548.30 345.00,544.50 345.50,544.50 345.50,544.50 345.50,548.30 346.00,548.30 346.00,544.50 346.50,544.50 346.50,544.50 347.50,544.50 347.50,544.50 347.50,548.30 348.00,548.30 348.00,544.50 348.50,544.50 348.50,544.50 349.50,544.50 349.50,544.50 349.50,548.30 350.00,548.30 350.00,544.50 350.50,544.50 350.50,544.50 350.50,548.30 351.00,548.30 351.00,544.50 351.50,544.50 351.50,544.50 351.50,548.30 352.00,548.30 352.00,544.50 352.50,544.50 352.50,544.50 352.50,548.30 353.00,548.30 353.00,544.50 353.50,544.50 353.50,544.50 353.50,548.30 354.00,548.30 354.00,544.50 354.50,544.50 354.50,548.30 354.50,544.50 355.70,544.50 355.70,548.30 355.50,548.30 355.50,544.50 356.70,544.50 356.70,548.30 356.50,548.30 356.50,544.50 356.95,544.50 356.95,548.30 358.00,548.30" fill="none" stroke="#222" stroke-width="0.8" stroke-linejoin="bevel"/>
<polyline points="358.00,548.30 359.50,538.50 360.40,545.00 361.40,543.00 363.50,530.00 364.98,515.50 366.87,495.00 367.20,477.70 368.96,455.00 369.57,440.00 369.70,420.00 370.70,400.00 371.37,382.00 372.71,370.00 373.17,362.80 373.46,370.00 373.90,382.00 374.45,400.00 375.66,420.00 376.07,440.00 377.49,467.00 378.62,483.00 380.01,493.90 381.80,503.30" fill="none" stroke="#111" stroke-width="0.95" stroke-linejoin="bevel"/>
<polyline points="381.80,501.29 382.40,501.29 382.40,505.99 383.00,505.99 383.00,506.83 383.60,506.83 383.60,505.60 384.20,505.60 384.20,501.43 384.80,501.43 384.80,513.27 385.40,513.27 385.40,514.01 386.00,514.01 386.00,508.64 386.60,508.64 386.60,508.74 387.20,508.74 387.20,503.87 387.80,503.87 387.80,499.68 388.40,499.68 388.40,506.91 389.00,506.91 389.00,511.22 389.60,511.22 389.60,501.66 390.20,501.66 390.20,515.66 390.80,515.66 390.80,505.23 391.40,505.23 391.40,505.48 392.00,505.48 392.00,502.10 392.60,502.10 392.60,520.49 393.20,520.49 393.20,515.82 393.80,515.82 393.80,528.80 394.40,528.80 394.40,513.96 395.00,513.96 395.00,503.15 395.60,503.15 395.60,508.75 396.20,508.75 396.20,511.95 396.80,511.95 396.80,504.70 397.40,504.70 397.40,520.59 398.00,520.59 398.00,509.50 398.60,509.50 398.60,505.44 399.20,505.44 399.20,518.03 399.80,518.03 399.80,504.87 400.40,504.87 400.40,520.13 401.00,520.13 401.00,511.11 401.60,511.11 401.60,512.99 402.20,512.99 402.20,509.02 402.80,509.02 402.80,511.71 403.40,511.71 403.40,506.05 404.00,506.05 404.00,503.21 404.60,503.21 404.60,518.95 405.20,518.95 405.20,506.96 405.80,506.96 405.80,517.32 406.40,517.32 406.40,506.46 407.00,506.46 407.00,520.91 407.60,520.91 407.60,519.49 408.20,519.49 408.20,516.84 408.80,516.84 408.80,516.99 409.40,516.99 409.40,513.53 410.00,513.53 410.00,516.37 410.60,516.37 410.60,504.77 411.20,504.77 411.20,511.43 411.80,511.43 411.80,518.03 412.40,518.03 412.40,506.08 413.00,506.08 413.00,519.74 413.60,519.74 413.60,519.00 414.20,519.00 414.20,509.86 414.80,509.86 414.80,508.96 415.40,508.96 415.40,510.54 416.00,510.54 416.00,509.23 416.60,509.23 416.60,520.74 417.20,520.74 417.20,509.13 417.80,509.13 417.80,502.23 418.40,502.23 418.40,503.43 419.00,503.43 419.00,515.24 419.60,515.24 419.60,520.40 420.20,520.40 420.20,510.92 420.80,510.92 420.80,510.84 421.40,510.84 421.40,511.96 422.00,511.96 422.00,515.72 422.60,515.72 422.60,505.72 423.20,505.72 423.20,513.07 423.80,513.07 423.80,512.07 424.40,512.07 424.40,513.33 425.00,513.33 425.00,504.93 425.60,504.93 425.60,504.73 426.20,504.73 426.20,508.12 426.80,508.12 426.80,519.11 427.40,519.11 427.40,508.09 428.00,508.09 428.00,512.85 428.60,512.85 428.60,507.33 429.20,507.33 429.20,503.46 429.80,503.46 429.80,502.75 430.40,502.75 430.40,516.88 431.00,516.88 431.00,516.06 431.60,516.06 431.60,508.30 432.20,508.30 432.20,514.04 432.80,514.04 432.80,513.78 433.40,513.78 433.40,517.90 434.00,517.90 434.00,518.91 434.60,518.91 434.60,508.31 435.20,508.31 435.20,519.63 435.80,519.63 435.80,520.10 436.40,520.10 436.40,514.02 437.00,514.02 437.00,520.23 437.60,520.23 437.60,514.18 438.20,514.18 438.20,512.44 438.80,512.44 438.80,509.04 439.40,509.04 439.40,517.60 440.00,517.60 440.00,505.27 440.60,505.27 440.60,502.56 441.20,502.56 441.20,512.06 441.80,512.06 441.80,510.34 442.40,510.34 442.40,504.96 443.00,504.96 443.00,508.72 443.60,508.72 443.60,499.32 444.20,499.32 444.20,503.71 444.80,503.71 444.80,505.68 445.40,505.68 445.40,505.74 446.00,505.74 446.00,499.22 446.60,499.22 446.60,494.60 447.20,494.60 447.20,496.03 447.80,496.03 447.80,503.72 448.40,503.72 448.40,505.22 449.00,505.22 449.00,502.53 449.60,502.53 449.60,499.46 450.20,499.46 450.20,496.98 450.80,496.98 450.80,506.77 451.40,506.77 451.40,501.73 452.00,501.73 452.00,504.97 452.60,504.97 452.60,493.71 453.20,493.71 453.20,493.94 453.80,493.94 453.80,499.92 454.40,499.92 454.40,486.00 455.00,486.00 455.00,499.96 455.60,499.96 455.60,498.72 456.20,498.72 456.20,498.28 456.80,498.28 456.80,501.01 457.40,501.01 457.40,505.22 458.00,505.22 458.00,498.90 458.60,498.90 458.60,503.48 459.20,503.48 459.20,507.59 459.80,507.59 459.80,516.14 460.40,516.14 460.40,512.94 461.00,512.94 461.00,519.74 461.60,519.74 461.60,522.79 462.20,522.79 462.20,518.21 462.80,518.21 462.80,523.12 463.40,523.12 463.40,525.04 464.00,525.04 464.00,527.99 464.60,527.99 464.60,528.26 465.20,528.26 465.20,528.42 465.80,528.42 465.80,531.32 466.40,531.32 466.40,536.10 467.00,536.10 467.00,537.83 467.60,537.83 467.60,536.17 468.20,536.17 468.20,537.84 468.80,537.84 468.80,539.67 469.40,539.67 469.40,540.00 470.00,540.00 470.00,541.21 470.60,541.21 470.60,540.09 471.20,540.09 471.20,542.07 471.80,542.07 471.80,541.23 472.40,541.23 472.40,539.72 473.00,539.72 473.00,541.17 473.60,541.17 473.60,540.73 474.20,540.73 474.20,541.74 474.80,541.74 474.80,542.00 475.40,542.00 475.40,542.92 476.00,542.92 476.00,544.05 476.60,544.05 476.60,544.78 477.20,544.78 477.20,545.93 477.80,545.93 477.80,545.60 478.40,545.60 478.40,543.42 479.00,543.42 479.00,544.33 479.60,544.33 479.60,543.74 480.20,543.74 480.20,542.36 480.80,542.36 480.80,541.87 481.40,541.87 481.40,539.52 482.00,539.52 482.00,546.11 482.60,546.11 482.60,547.78" fill="none" stroke="#111" stroke-width="0.85" stroke-linejoin="bevel"/>
<text transform="translate(0.2 19.7) scale(1.0181 1)" font-size="25.747" font-family='"Liberation Sans", sans-serif' font-weight="bold" text-anchor="start" fill="#000">A</text>
<text transform="translate(8.0 119.8) rotate(-90)" font-size="8.931" font-family='"Liberation Sans", sans-serif' font-weight="bold" text-anchor="middle" fill="#000">Total number of viable cells</text>
<text transform="translate(18.35 119.15) rotate(-90)" font-size="8.989" font-family='"Liberation Sans", sans-serif' font-weight="bold" text-anchor="middle" fill="#000">(% of His peptide –treated controls)</text>
<text transform="translate(88.7 217.35) rotate(-90)" font-size="8.749" font-family='"Liberation Sans", sans-serif' font-weight="bold" text-anchor="end" fill="#000">SNP</text>
<text transform="translate(152.0 217.35) rotate(-90)" font-size="8.334" font-family='"Liberation Sans", sans-serif' font-weight="bold" text-anchor="end" fill="#000">TRAIL</text>
<text transform="translate(217.0 216.35) rotate(-90)" font-size="8.99" font-family='"Liberation Sans", sans-serif' font-weight="bold" text-anchor="end" fill="#000">SNP + TRAIL</text>
<text transform="translate(269.5 20.0) scale(1.0330 1)" font-size="25.239" font-family='"Liberation Sans", sans-serif' font-weight="bold" text-anchor="start" fill="#000">B</text>
<text transform="translate(279.55 127.6) rotate(-90)" font-size="9.452" font-family='"Liberation Sans", sans-serif' font-weight="bold" text-anchor="middle" fill="#000">Percentage of apoptosis</text>
<text transform="translate(337.85 227.75) rotate(-90)" font-size="9.716" font-family='"Liberation Sans", sans-serif' font-weight="bold" text-anchor="end" fill="#000">Nil</text>
<text transform="translate(378.9 228.25) rotate(-90)" font-size="9.479" font-family='"Liberation Sans", sans-serif' font-weight="bold" text-anchor="end" fill="#000">His peptide</text>
<text transform="translate(419.2 229.25) rotate(-90)" font-size="8.82" font-family='"Liberation Sans", sans-serif' font-weight="bold" text-anchor="end" fill="#000">SNP</text>
<text transform="translate(458.7 229.25) rotate(-90)" font-size="8.763" font-family='"Liberation Sans", sans-serif' font-weight="bold" text-anchor="end" fill="#000">TRAIL</text>
<text transform="translate(500.0 229.25) rotate(-90)" font-size="9.244" font-family='"Liberation Sans", sans-serif' font-weight="bold" text-anchor="end" fill="#000">SNP + TRAIL</text>
<text transform="translate(0.0 316.45) scale(0.9620 1)" font-size="24.408" font-family='"Liberation Sans", sans-serif' font-weight="bold" text-anchor="start" fill="#000">C</text>
<text transform="translate(69.0 317.75) scale(1.0245 1)" font-size="26.27" font-family='"Liberation Sans", sans-serif' text-anchor="start" fill="#000">Untreated</text>
<text transform="translate(349.85 319.15) scale(0.9680 1)" font-size="27.983" font-family='"Liberation Sans", sans-serif' text-anchor="start" fill="#000">SNP</text>
<text transform="translate(15.05 438.1) rotate(-90)" font-size="18.065" font-family='"Liberation Sans", sans-serif' font-weight="bold" text-anchor="middle" fill="#000">Relative Cell Number</text>
<text transform="translate(150.45 587.55)" font-size="21.465" font-family='"Liberation Sans", sans-serif' text-anchor="start" fill="#000">PI Fluorescence Intensity</text>
<text transform="translate(50.5 515.05)" font-size="14.461" font-family='"Liberation Sans", sans-serif' font-weight="bold" text-anchor="start" fill="#000">Apo</text>
<text transform="translate(310.8 515.25)" font-size="14.274" font-family='"Liberation Sans", sans-serif' font-weight="bold" text-anchor="start" fill="#000">Apo</text>
<text transform="translate(156.0 502.95)" font-size="13.546" font-family='"Liberation Sans", sans-serif' font-weight="bold" text-anchor="start" fill="#000">S</text>
<text transform="translate(406.5 489.95)" font-size="14.387" font-family='"Liberation Sans", sans-serif' font-weight="bold" text-anchor="start" fill="#000">S</text>
<text transform="translate(193.05 346.6)" font-size="12.2" font-family='"Liberation Sans", sans-serif' text-anchor="start" fill="#111" textLength="43.40" lengthAdjust="spacing">G<tspan font-size="6.2" dy="-4.6">1</tspan><tspan dy="4.6">: 46%</tspan></text>
<text transform="translate(193.15 360.95)" font-size="12.2" font-family='"Liberation Sans", sans-serif' text-anchor="start" fill="#111" textLength="39.30" lengthAdjust="spacing">S: 34%</text>
<text transform="translate(193.05 376.05)" font-size="12.2" font-family='"Liberation Sans", sans-serif' text-anchor="start" fill="#111" textLength="60.10" lengthAdjust="spacing">G<tspan font-size="6.2" dy="-4.6">2</tspan><tspan dy="4.6">/M: 20%</tspan></text>
<text transform="translate(439.2 343.25)" font-size="12.2" font-family='"Liberation Sans", sans-serif' text-anchor="start" fill="#111" textLength="43.30" lengthAdjust="spacing">G<tspan font-size="6.2" dy="-4.6">1</tspan><tspan dy="4.6">: 36%</tspan></text>
<text transform="translate(439.2 358.25)" font-size="12.2" font-family='"Liberation Sans", sans-serif' text-anchor="start" fill="#111" textLength="40.40" lengthAdjust="spacing">S: 41%</text>
<text transform="translate(439.2 373.45)" font-size="12.2" font-family='"Liberation Sans", sans-serif' text-anchor="start" fill="#111" textLength="60.95" lengthAdjust="spacing">G<tspan font-size="6.2" dy="-4.6">2</tspan><tspan dy="4.6">/M: 23 %</tspan></text>
</svg>
</body></html>
